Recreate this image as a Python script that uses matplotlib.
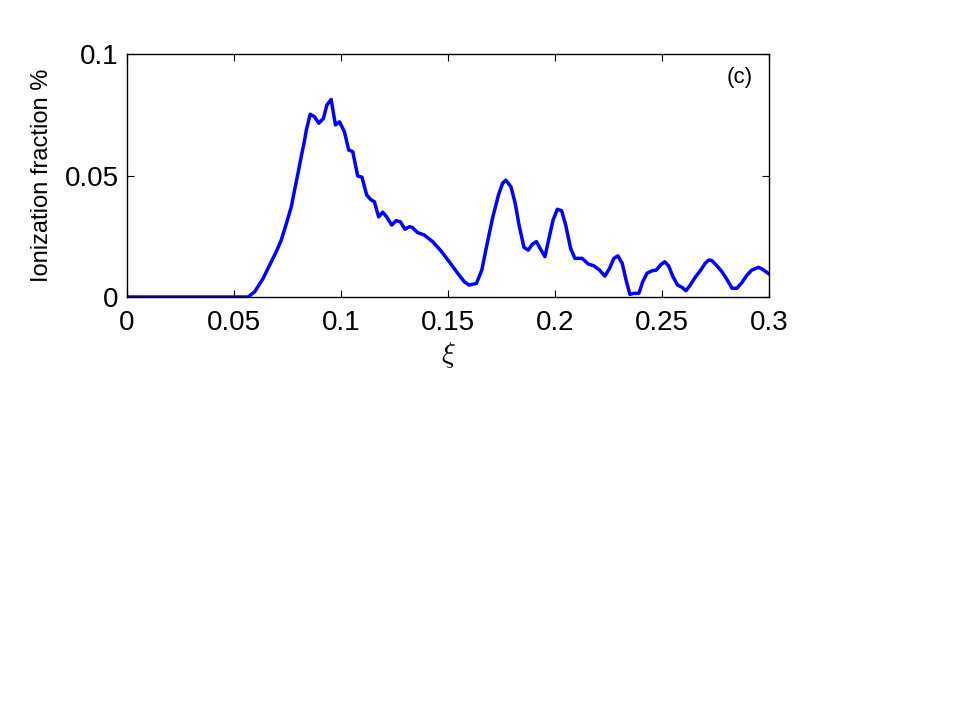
import matplotlib
matplotlib.use("Agg")
import matplotlib.pyplot as plt

xi = [0.0, 0.0566, 0.0597, 0.0635, 0.0667, 0.0698, 0.0721, 0.0744, 0.0768, 0.0783,
      0.0799, 0.0814, 0.0830, 0.0838, 0.0856, 0.0876,
      0.0896, 0.0918, 0.0934, 0.0954, 0.0974, 0.0993, 0.1016, 0.1036, 0.1055, 0.1078,
      0.1098, 0.1120, 0.1140, 0.1156, 0.1176, 0.1195, 0.1213, 0.1237, 0.1257, 0.1277,
      0.1299, 0.1319, 0.1332, 0.1358, 0.1389, 0.1428, 0.1467, 0.1506, 0.1545, 0.1576,
      0.1599, 0.1633, 0.1658, 0.1680, 0.1708, 0.1736, 0.1755, 0.1770, 0.1794, 0.1814,
      0.1832, 0.1855, 0.1875, 0.1894, 0.1913, 0.1933, 0.1953, 0.1972, 0.1991, 0.2011,
      0.2031, 0.2050, 0.2073, 0.2093, 0.2127, 0.2155, 0.2182, 0.2208, 0.2233, 0.2255,
      0.2275, 0.2294, 0.2314, 0.2332, 0.2350, 0.2368, 0.2392, 0.2410, 0.2430, 0.2454,
      0.2474, 0.2493, 0.2513, 0.2531, 0.2551, 0.2573, 0.2593, 0.2612, 0.2632, 0.2655,
      0.2679, 0.2702, 0.2718, 0.2733, 0.2757, 0.2780, 0.2803, 0.2827, 0.2850, 0.2873,
      0.2897, 0.2920, 0.2951, 0.2970, 0.3000]
ion = [0.0, 0.0, 0.0022, 0.0075, 0.0132, 0.0187, 0.0235, 0.0300, 0.0372, 0.0440,
       0.0509, 0.0577, 0.0646, 0.0687, 0.0752, 0.0742,
       0.0715, 0.0735, 0.0790, 0.0813, 0.0708, 0.0721, 0.0680, 0.0605, 0.0598, 0.0498,
       0.0493, 0.0420, 0.0400, 0.0392, 0.0330, 0.0349, 0.0330, 0.0296, 0.0314, 0.0310,
       0.0279, 0.0289, 0.0287, 0.0265, 0.0255, 0.0228, 0.0190, 0.0145, 0.0098, 0.0063,
       0.0049, 0.0056, 0.0111, 0.0207, 0.0324, 0.0420, 0.0468, 0.0481, 0.0454, 0.0386,
       0.0296, 0.0204, 0.0193, 0.0217, 0.0228, 0.0196, 0.0166, 0.0242, 0.0317, 0.0361,
       0.0355, 0.0296, 0.0200, 0.0159, 0.0159, 0.0136, 0.0128, 0.0111, 0.0086, 0.0118,
       0.0159, 0.0169, 0.0139, 0.0070, 0.0011, 0.0015, 0.0015, 0.0063, 0.0098, 0.0108,
       0.0111, 0.0132, 0.0145, 0.0128, 0.0084, 0.0049, 0.0040, 0.0026, 0.0049, 0.0081,
       0.0108, 0.0139, 0.0152, 0.0150, 0.0128, 0.0104, 0.0073, 0.0036, 0.0036, 0.0059,
       0.0090, 0.0111, 0.0122, 0.0114, 0.0095]

xticks = [0, 0.05, 0.1, 0.15, 0.2, 0.25, 0.3]
xticklabels = ["0", "0.05", "0.1", "0.15", "0.2", "0.25", "0.3"]
yticks = [0, 0.05, 0.1]
yticklabels = ["0", "0.05", "0.1"]

plt.rcParams['font.family'] = ['Liberation Sans', 'DejaVu Sans']
plt.rcParams['mathtext.fontset'] = 'cm'

fig = plt.figure(figsize=(9.75, 7.18), dpi=100)
ax = fig.add_axes([127/975, 1-297/718, (769-127)/975, (297-54)/718])
ax.plot(xi, ion, color=(0, 0, 1), lw=2.5)
ax.set_xlim(0, 0.3)
ax.set_ylim(0, 0.1)
ax.set_xticks(xticks)
ax.set_xticklabels(xticklabels)
ax.set_yticks(yticks)
ax.set_yticklabels(yticklabels)
ax.tick_params(axis='both', direction='in', length=5, width=0.8, labelsize=20,
               top=True, right=True)
ax.tick_params(axis='x', pad=9)
ax.tick_params(axis='y', pad=6)
for s in ax.spines.values():
    s.set_linewidth(1.0)
ax.set_xlabel(r'$\xi$', fontsize=21, labelpad=3)
ax.set_ylabel('Ionization fraction %', fontsize=17, labelpad=8)
ax.text(0.975, 0.905, '(c)', transform=ax.transAxes, ha='right', va='center', fontsize=16)
fig.savefig('out.png', dpi=100)
